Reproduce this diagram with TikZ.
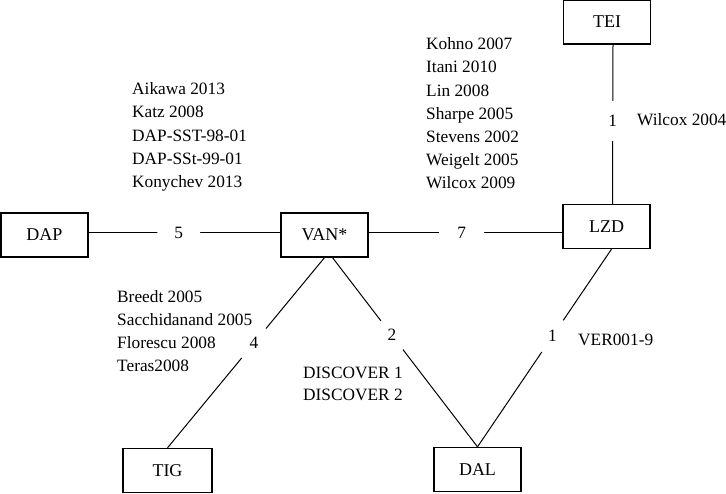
\documentclass[tikz,border=0pt]{standalone}
\usepackage{fontspec}
\setmainfont{Liberation Serif}
\begin{document}
\begin{tikzpicture}[x=1pt,y=-1pt,
  box/.style={draw,line width=1.3pt,minimum width=87pt,minimum height=44pt,inner sep=0pt,font=\fontsize{18}{22}\selectfont},
  conn/.style={line width=1pt},
  num/.style={circle,fill=white,inner sep=0pt,minimum size=40pt,font=\fontsize{17.3}{22}\selectfont},
  lst/.style={anchor=west,align=left,inner sep=0pt,font=\fontsize{17.3}{23.2}\selectfont}]
\useasboundingbox (0,0) rectangle (726,494);
\node[box] (TEI) at (607,22) {TEI};
\node[box] (LZD) at (606.5,226.5) {LZD};
\node[box] (VAN) at (324.5,235) {VAN*};
\node[box] (DAP) at (44.5,235) {DAP};
\node[box,minimum width=89pt] (TIG) at (167.5,470.5) {TIG};
\node[box] (DAL) at (477.5,469.5) {DAL};
% connectors
\draw[conn] (DAP.east |- 0,233) -- node[num,pos=0.47,minimum size=43pt]{5} (VAN.west |- 0,233);
\draw[conn] (VAN.east |- 0,233) -- node[num,pos=0.48,minimum size=45pt]{7} (LZD.west |- 0,233);
\draw[conn] ([xshift=6pt]TEI.south) -- node[num,pos=0.48]{1} ([xshift=6pt]LZD.north);
\draw[conn] (VAN.south) -- node[num,pos=0.45,minimum size=38pt]{4} (TIG.north);
\draw[conn] ([xshift=8pt]VAN.south) -- node[num,pos=0.41,minimum size=36pt]{2} (DAL.north);
\draw[conn] ([xshift=5pt]LZD.south) -- node[num,pos=0.44,minimum size=38pt]{1} (DAL.north);
% reference lists
\node[lst] (la) at (132,137) {Aikawa 2013\\Katz 2008\\DAP-SST-98-01\\DAP-SSt-99-01\\Konychev 2013};
\node[lst] (lk) at (426,113.5) {Kohno 2007\\Itani 2010\\Lin 2008\\Sharpe 2005\\Stevens 2002\\Weigelt 2005\\Wilcox 2009};
\node[lst] (lw) at (637,120) {Wilcox 2004};
\node[lst] (lb) at (117,331) {Breedt 2005\\Sacchidanand 2005\\Florescu 2008\\Teras2008};
\node[lst,font=\fontsize{17.3}{22}\selectfont] (ld) at (303,384) {DISCOVER 1\\DISCOVER 2};
\node[lst] (lv) at (578,340) {VER001-9};
\end{tikzpicture}
\end{document}
